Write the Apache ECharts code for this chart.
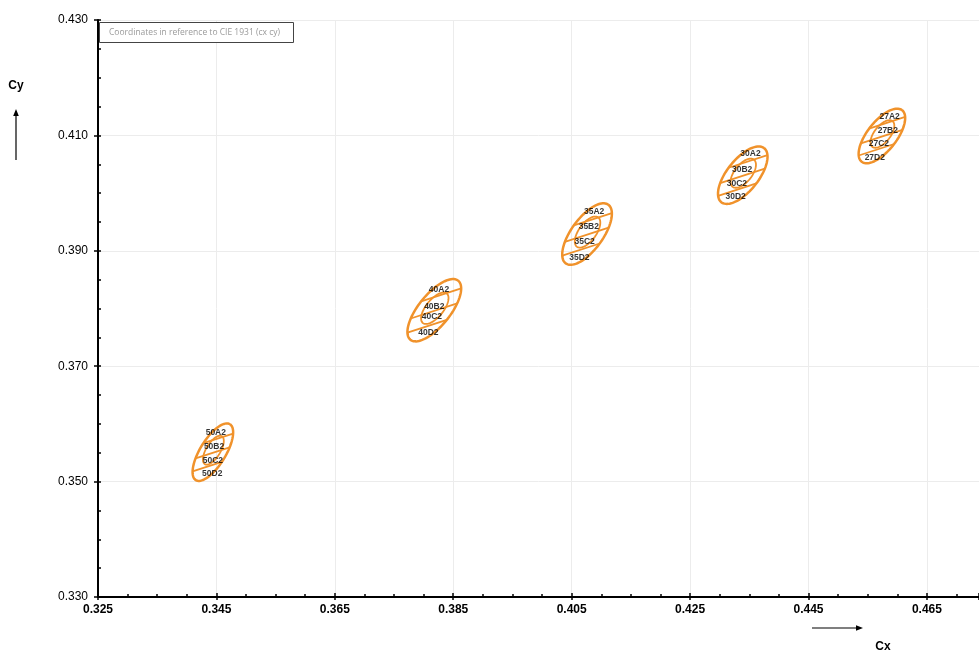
<!DOCTYPE html>
<html>
<head>
<meta charset="utf-8">
<script src="https://cdn.jsdelivr.net/npm/echarts@6/dist/echarts.min.js"></script>
<style>html,body{margin:0;padding:0;background:#fff}#c{width:979px;height:653px}</style>
</head>
<body>
<div id="c"></div>
<script>
// ---- data ----
const groups = ['50', '40', '35', '30', '27'];
const centerX = [0.3444, 0.3818, 0.4076, 0.4339, 0.4574];
const centerY = [0.3551, 0.3797, 0.3929, 0.4031, 0.4099];
const semiMajor = [0.0056, 0.0065, 0.0062, 0.0059, 0.0056];
const semiMinor = [0.0022, 0.0027, 0.0027, 0.0027, 0.0025];
const tiltDeg = [58.6, 51, 54, 51.5, 51.8];
const labelNames = ['50A2','50B2','50C2','50D2','40A2','40B2','40C2','40D2','35A2','35B2','35C2','35D2','30A2','30B2','30C2','30D2','27A2','27B2','27C2','27D2'];
const labelX = [0.3449,0.3446,0.3444,0.3443, 0.3826,0.3818,0.3814,0.3808, 0.4088,0.4079,0.4072,0.4063, 0.4352,0.4338,0.4329,0.4327, 0.4587,0.4584,0.4569,0.4562];
const labelY = [0.3584,0.3560,0.3536,0.3513, 0.3832,0.3804,0.3785,0.3758, 0.3967,0.3941,0.3915,0.3888, 0.4068,0.4040,0.4016,0.3993, 0.4132,0.4109,0.4085,0.4061];
const xTicks = {min: 0.325, max: 0.4738, interval: 0.02};
const yTicks = {min: 0.33, max: 0.43, interval: 0.02};

const ORANGE = '#F0922B';
const ellipseData = groups.map((g, i) => [centerX[i], centerY[i], semiMajor[i], semiMinor[i], tiltDeg[i], g]);
const labelData = labelNames.map((n, i) => ({value: [labelX[i], labelY[i]], name: n}));

function renderEllipse(params, api) {
  const c = api.coord([api.value(0), api.value(1)]);
  const s = api.size([0.001, 0.001]);
  const k = (s[0] + s[1]) / 2 * 1000;
  const a = api.value(2) * k, b = api.value(3) * k;
  const th = api.value(4) * Math.PI / 180;
  const ux = Math.cos(th), uy = -Math.sin(th);   // major axis dir (screen)
  const vx = Math.sin(th), vy = Math.cos(th);    // minor axis dir
  function ell(A, B, ox, oy) {
    const pts = [];
    for (let i = 0; i <= 90; i++) {
      const t = i / 90 * Math.PI * 2;
      const X = A * Math.cos(t), Y = B * Math.sin(t);
      pts.push([c[0] + ox + X * ux + Y * vx, c[1] + oy + X * uy + Y * vy]);
    }
    return pts;
  }
  const children = [];
  children.push({type: 'polyline', shape: {points: ell(a, b, 0, 0)}, style: {fill: null, stroke: ORANGE, lineWidth: 2.5}});
  children.push({type: 'polyline', shape: {points: ell(a * 0.5, b * 0.55, 0.5, -2)}, style: {fill: null, stroke: ORANGE, lineWidth: 1.8}});
  const vHalf = Math.sqrt(a * a * uy * uy + b * b * vy * vy);
  const phi = 18 * Math.PI / 180;
  const dx = Math.cos(phi), dy = -Math.sin(phi);
  [-0.42, 0.02, 0.44].forEach(f => {
    const ox = 0, oy = f * vHalf;
    const Xo = ox * ux + oy * uy, Yo = ox * vx + oy * vy;
    const Xd = dx * ux + dy * uy, Yd = dx * vx + dy * vy;
    const A2 = Xd * Xd / (a * a) + Yd * Yd / (b * b);
    const B2 = 2 * (Xo * Xd / (a * a) + Yo * Yd / (b * b));
    const C2 = Xo * Xo / (a * a) + Yo * Yo / (b * b) - 1;
    const disc = B2 * B2 - 4 * A2 * C2;
    if (disc <= 0) return;
    const t1 = (-B2 - Math.sqrt(disc)) / (2 * A2), t2 = (-B2 + Math.sqrt(disc)) / (2 * A2);
    children.push({type: 'line', shape: {x1: c[0] + ox + t1 * dx, y1: c[1] + oy + t1 * dy, x2: c[0] + ox + t2 * dx, y2: c[1] + oy + t2 * dy}, style: {stroke: ORANGE, lineWidth: 1.8}});
  });
  return {type: 'group', children};
}

const fmt = v => (+v).toFixed(3);
const chart = echarts.init(document.getElementById('c'), null, {renderer: 'canvas'});
chart.setOption({
  animation: false,
  backgroundColor: '#fff',
  grid: {left: 98, right: 0, top: 20, bottom: 56, containLabel: false},
  xAxis: [{
    type: 'value', min: xTicks.min, max: xTicks.max, interval: xTicks.interval,
    axisLine: {show: true, lineStyle: {color: '#000', width: 2}},
    axisTick: {show: true, inside: true, length: 4, lineStyle: {color: '#000', width: 1.5}},
    minorTick: {show: true, splitNumber: 4, length: 3, lineStyle: {color: '#000', width: 1.5}},
    splitLine: {show: true, lineStyle: {color: '#ececec', width: 1}},
    axisLabel: {formatter: fmt, color: '#000', fontFamily: 'Liberation Sans', fontWeight: 'bold', fontSize: 12, margin: 7, showMaxLabel: false}
  }, {
    type: 'value', min: xTicks.min, max: xTicks.max, interval: xTicks.interval, position: 'bottom',
    axisLine: {show: false}, axisTick: {show: true, inside: false, length: 3, lineStyle: {color: '#000', width: 1.5}},
    axisLabel: {show: false}, splitLine: {show: false}
  }],
  yAxis: [{
    type: 'value', min: yTicks.min, max: yTicks.max, interval: yTicks.interval,
    axisLine: {show: true, lineStyle: {color: '#000', width: 2}},
    axisTick: {show: true, inside: true, length: 3, lineStyle: {color: '#000', width: 1.5}},
    minorTick: {show: true, splitNumber: 4, length: 3, lineStyle: {color: '#000', width: 1.5}},
    splitLine: {show: true, lineStyle: {color: '#ececec', width: 1}},
    axisLabel: {formatter: fmt, color: '#000', fontFamily: 'Liberation Sans', fontSize: 12, margin: 10}
  }, {
    type: 'value', min: yTicks.min, max: yTicks.max, interval: yTicks.interval, position: 'left',
    axisLine: {show: false}, axisTick: {show: true, inside: false, length: 4, lineStyle: {color: '#000', width: 1.5}},
    axisLabel: {show: false}, splitLine: {show: false}
  }],
  series: [{
    type: 'custom', renderItem: renderEllipse, data: ellipseData, clip: true,
    encode: {x: 0, y: 1}, silent: true, z: 3
  }, {
    type: 'scatter', data: labelData, symbolSize: 0, silent: true, z: 4,
    label: {show: true, position: 'inside', formatter: p => p.name, color: '#000', fontFamily: 'Liberation Sans', fontWeight: 'bold', fontSize: 8.5}
  }],
  graphic: [
    {type: 'rect', shape: {x: 99.5, y: 22.5, width: 194, height: 20}, style: {fill: '#fff', stroke: '#444', lineWidth: 1}, z: 10},
    {type: 'text', x: 109, y: 32.5, style: {text: 'Coordinates in reference to CIE 1931 (cx cy)', fill: '#9a9a9a', font: '8.5px "Open Sans"', textVerticalAlign: 'middle'}, z: 11},
    {type: 'text', x: 16, y: 86, style: {text: 'Cy', fill: '#000', font: 'bold 12px "Liberation Sans"', textAlign: 'center', textVerticalAlign: 'middle'}},
    {type: 'line', shape: {x1: 16, y1: 160, x2: 16, y2: 114}, style: {stroke: '#000', lineWidth: 1.2}},
    {type: 'polygon', shape: {points: [[16, 109], [13.2, 116], [18.8, 116]]}, style: {fill: '#000'}},
    {type: 'text', x: 883, y: 647, style: {text: 'Cx', fill: '#000', font: 'bold 12px "Liberation Sans"', textAlign: 'center', textVerticalAlign: 'middle'}},
    {type: 'line', shape: {x1: 812, y1: 628, x2: 857, y2: 628}, style: {stroke: '#000', lineWidth: 1.2}},
    {type: 'polygon', shape: {points: [[863, 628], [856, 625.2], [856, 630.8]]}, style: {fill: '#000'}}
  ]
});
</script>
</body>
</html>
